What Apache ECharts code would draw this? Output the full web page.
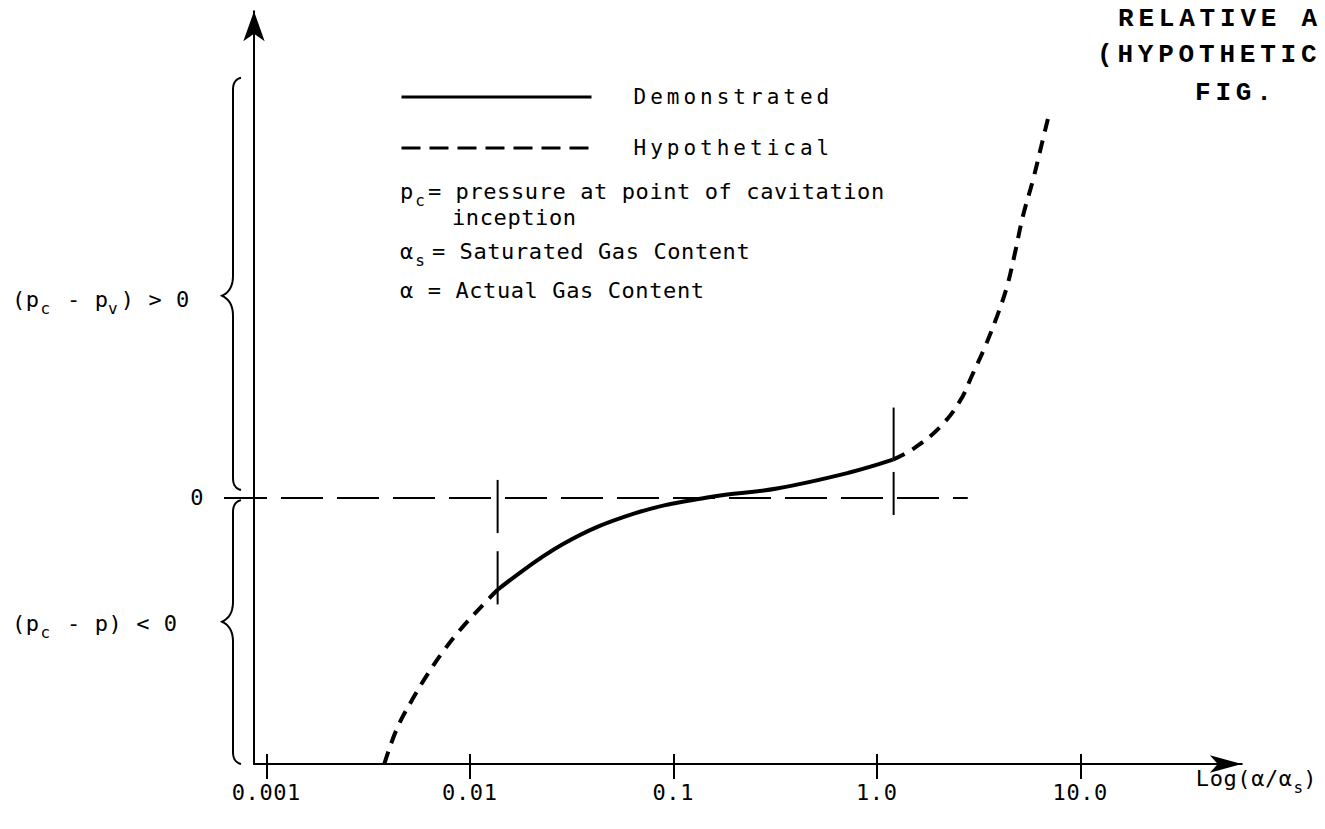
<!DOCTYPE html>
<html>
<head>
<meta charset="utf-8">
<script src="https://cdn.jsdelivr.net/npm/echarts@6/dist/echarts.min.js"></script>
<style>
  html, body { margin: 0; padding: 0; background: #fff; }
  #chart { width: 1325px; height: 829px; }
  /* lettering-style spacing for the SVG text runs */
  #chart text[style*="22px"] { letter-spacing: 0.6px; }
  #chart text[style*="21px"] { letter-spacing: 4px; }
  #chart text[style*="Liberation Mono"] { letter-spacing: 4.8px; }
</style>
</head>
<body>
<div id="chart"></div>
<script>
// x: gas content ratio alpha/alpha_s (log scale); y: pressure difference (arbitrary units, 0 = vapour pressure)
const tickValues = [0.001, 0.01, 0.1, 1, 10];
const tickLabels = ['0.001', '0.01', '0.1', '1.0', '10.0'];

const demonstrated = [
  [0.0137, -0.345], [0.0286, -0.174], [0.064, -0.059], [0.1445, 0.001],
  [0.323, 0.036], [0.728, 0.095], [1.2, 0.144]
];
const hypotheticalLow = [
  [0.0038, -1.0], [0.00438, -0.868], [0.00525, -0.754], [0.00615, -0.667],
  [0.00728, -0.584], [0.00893, -0.497], [0.01186, -0.394], [0.0137, -0.345]
];
const hypotheticalHigh = [
  [1.2, 0.144], [1.5, 0.183], [2.04, 0.266], [2.56, 0.364], [2.96, 0.466],
  [3.4, 0.568], [3.89, 0.681], [4.36, 0.794], [4.77, 0.919], [5.22, 1.058],
  [5.85, 1.194], [6.48, 1.333], [7.08, 1.454]
];
const zeroLine = [[0.00087, 0], [2.8, 0]];
const markerSegments = [
  [[0.0137, 0.068], [0.0137, -0.132]],
  [[0.0137, -0.2], [0.0137, -0.40]],
  [[1.21, 0.34], [1.21, 0.15]],
  [[1.21, 0.098], [1.21, -0.064]]
];
const xRange = [0.00087, 62.2];
const yRange = [-1, 1.83];
// bracketed regions of the pressure axis: [from, to, tip]
const braceSpans = [[0.03, 1.58, 0.76], [-1.0, -0.008, -0.465]];

const MONO = "'DejaVu Sans Mono', monospace";
const INK = '#000';

function tickFormatter(value) {
  const i = tickValues.findIndex(v => Math.abs(Math.log10(v) - Math.log10(value)) < 1e-6);
  return i >= 0 ? tickLabels[i] : '';
}

const chart = echarts.init(document.getElementById('chart'), null, { renderer: 'svg' });

const baseLine = { color: INK, width: 4 };
const hiddenSymbol = { opacity: 0, color: 'rgba(0,0,0,0)', borderWidth: 0 };
const option = {
  animation: false,
  backgroundColor: '#fff',
  color: [INK],
  grid: { left: 254, right: 83.2, top: 11.2, bottom: 65, containLabel: false, outerBoundsMode: 'none' },
  legend: {
    data: [
      { name: 'Demonstrated', lineStyle: { color: INK, width: 3, type: 'solid' }, itemStyle: hiddenSymbol },
      { name: 'Hypothetical', lineStyle: { color: INK, width: 3, type: [19, 9] }, itemStyle: hiddenSymbol }
    ],
    orient: 'vertical',
    left: 400,
    top: 85,
    padding: 0,
    itemWidth: 190,
    itemHeight: 14,
    itemGap: 27,
    selectedMode: false,
    itemStyle: hiddenSymbol,
    textStyle: { fontFamily: MONO, fontSize: 21, color: INK, lineHeight: 24, padding: [0, 0, 0, 37] }
  },
  xAxis: [
    {
      type: 'log', logBase: 10, min: xRange[0], max: xRange[1],
      name: 'Log(α/α{s|s})',
      nameLocation: 'end',
      nameGap: -46,
      nameTextStyle: {
        fontFamily: MONO, fontSize: 22, color: INK, align: 'left', verticalAlign: 'middle', padding: [28, 0, 0, 0],
        rich: { s: { fontFamily: MONO, fontSize: 16, color: INK, padding: [18, 0, 0, 5] } }
      },
      axisLine: { show: true, onZero: false, symbol: ['none', 'arrow'], symbolSize: [13, 32], lineStyle: { color: INK, width: 2 } },
      axisTick: { show: true, customValues: tickValues, length: 15, lineStyle: { color: INK, width: 2 } },
      axisLabel: { customValues: tickValues, formatter: tickFormatter, margin: 17, color: INK, fontFamily: MONO, fontSize: 22 },
      splitLine: { show: false }, minorTick: { show: false }
    },
    {
      type: 'log', logBase: 10, min: xRange[0], max: xRange[1], position: 'bottom',
      axisLine: { show: false, onZero: false },
      axisTick: { show: true, inside: true, customValues: tickValues, length: 10, lineStyle: { color: INK, width: 2 } },
      axisLabel: { show: false },
      splitLine: { show: false }
    }
  ],
  yAxis: {
    type: 'value', min: yRange[0], max: yRange[1], interval: 1,
    axisLine: { show: true, onZero: false, symbol: ['none', 'arrow'], symbolSize: [16, 30], lineStyle: { color: INK, width: 2 } },
    axisTick: { show: true, customValues: [0], length: 30, lineStyle: { color: INK, width: 2 } },
    axisLabel: { formatter: v => (v === 0 ? '0' : ''), margin: 50, color: INK, fontFamily: MONO, fontSize: 22 },
    splitLine: { show: false }
  },
  series: [
    { name: 'Demonstrated', type: 'line', data: demonstrated, smooth: 0.4, symbol: 'none', lineStyle: baseLine, z: 5 },
    { name: 'Hypothetical', type: 'line', data: hypotheticalLow, smooth: 0.4, symbol: 'none', lineStyle: Object.assign({}, baseLine, { type: [13, 9] }), z: 5 },
    { name: 'Hypothetical', type: 'line', data: hypotheticalHigh, smooth: 0.4, symbol: 'none', lineStyle: Object.assign({}, baseLine, { type: [13, 9] }), z: 5 },
    { name: 'zero', type: 'line', data: zeroLine, silent: true, symbol: 'none', lineStyle: { color: INK, width: 2, type: [42, 14], dashOffset: 29 } }
  ].concat(markerSegments.map((seg, i) => ({
    name: 'marker' + i, type: 'line', data: seg, silent: true, symbol: 'none', lineStyle: { color: INK, width: 2 }
  })))
};
chart.setOption(option);

// curly braces beside the pressure axis, sampled from quadratic curves
function quad(p0, c, p1, out) {
  for (let i = 1; i <= 10; i++) {
    const t = i / 10, u = 1 - t;
    out.push([u * u * p0[0] + 2 * u * t * c[0] + t * t * p1[0], u * u * p0[1] + 2 * u * t * c[1] + t * t * p1[1]]);
  }
}
function bracePoints(x, yTop, yTip, yBot) {
  const tipX = x - 11, hook = x + 8, r = 12;
  const pts = [[hook, yTop]];
  quad([hook, yTop], [x, yTop + 2], [x, yTop + r], pts);
  pts.push([x, yTip - 20]);
  quad([x, yTip - 20], [x, yTip - 5], [tipX, yTip], pts);
  quad([tipX, yTip], [x, yTip + 5], [x, yTip + 20], pts);
  pts.push([x, yBot - r]);
  quad([x, yBot - r], [x, yBot - 2], [hook, yBot], pts);
  return pts;
}
const axisX = chart.convertToPixel({ xAxisIndex: 0 }, xRange[0]);
const py = v => chart.convertToPixel({ yAxisIndex: 0 }, v);

const mainStyle = { fontFamily: MONO, fontSize: 22, fill: INK };
const subRich = { c: { fontFamily: MONO, fontSize: 16, fill: INK, padding: [18, 3, 0, 2] } };
const subRichTight = { c: { fontFamily: MONO, fontSize: 16, fill: INK, padding: [18, 7, 0, 2] } };

const graphics = braceSpans.map(s => ({
  type: 'polyline', silent: true,
  shape: { points: bracePoints(axisX - 21, py(s[1]), py(s[2]), py(s[0])) },
  style: { fill: null, stroke: INK, lineWidth: 2 }
}));

graphics.push(
  { type: 'text', silent: true, style: Object.assign({ text: '(p{c|c} - p{c|v}) > 0', x: 12, y: py(braceSpans[0][2]) + 4, verticalAlign: 'middle', rich: subRich }, mainStyle) },
  { type: 'text', silent: true, style: Object.assign({ text: '(p{c|c} - p) < 0', x: 12, y: py(braceSpans[1][2]) + 2, verticalAlign: 'middle', rich: subRich }, mainStyle) },
  { type: 'text', silent: true, style: Object.assign({ text: 'p{c|c}= pressure at point of cavitation', x: 400, y: 191, verticalAlign: 'middle', rich: subRich }, mainStyle) },
  { type: 'text', silent: true, style: Object.assign({ text: 'inception', x: 452, y: 217, verticalAlign: 'middle' }, mainStyle) },
  { type: 'text', silent: true, style: Object.assign({ text: 'α{c|s}= Saturated Gas Content', x: 400, y: 251, verticalAlign: 'middle', rich: subRichTight }, mainStyle) },
  { type: 'text', silent: true, style: Object.assign({ text: 'α = Actual Gas Content', x: 400, y: 290, verticalAlign: 'middle' }, mainStyle) }
);

const titleStyle = { fontFamily: 'Liberation Mono', fontWeight: 'bold', fontSize: 26, fill: INK, verticalAlign: 'middle' };
graphics.push(
  { type: 'text', silent: true, style: Object.assign({ text: 'RELATIVE A', x: 1118, y: 19 }, titleStyle) },
  { type: 'text', silent: true, style: Object.assign({ text: '(HYPOTHETIC', x: 1097, y: 55 }, titleStyle) },
  { type: 'text', silent: true, style: Object.assign({ text: 'FIG.', x: 1195, y: 93 }, titleStyle) }
);

chart.setOption({ graphic: graphics });
</script>
</body>
</html>
